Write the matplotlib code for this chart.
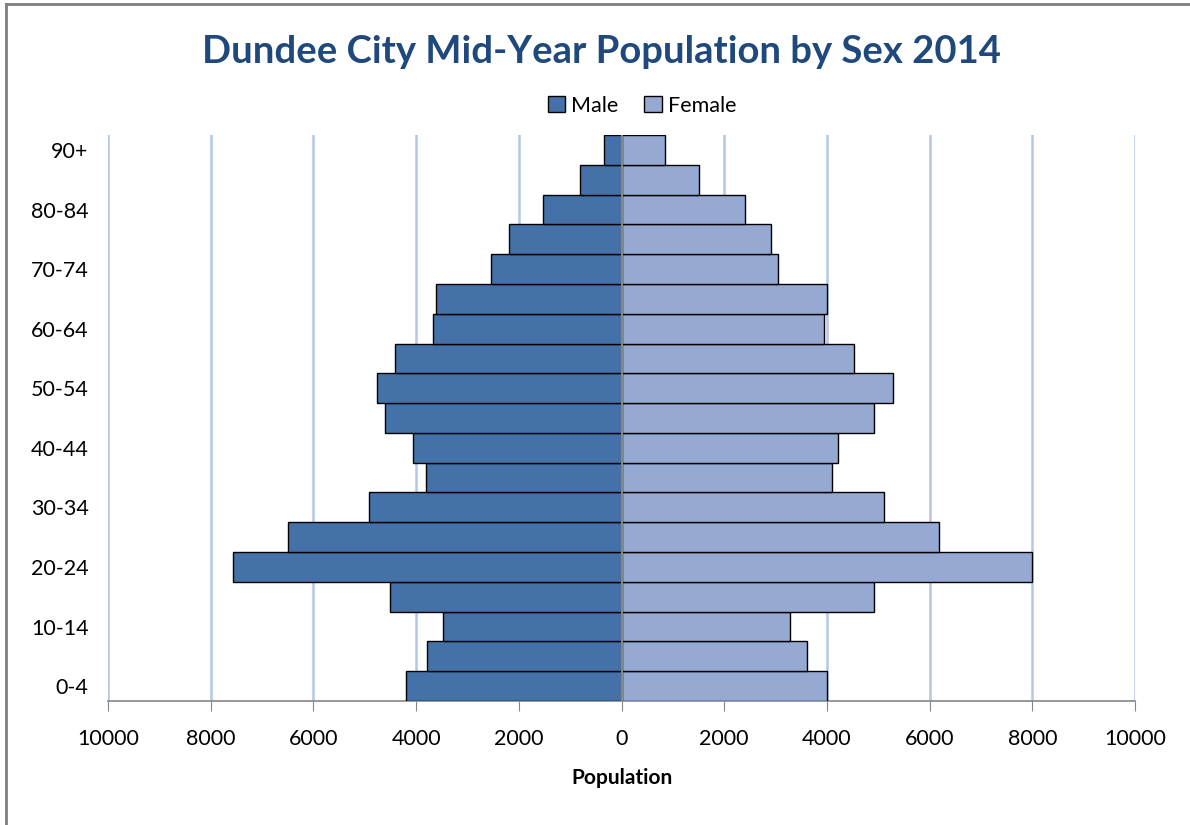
import matplotlib
matplotlib.use('Agg')
import matplotlib.pyplot as plt
from matplotlib.lines import Line2D

plt.rcParams['font.family'] = ['Lato', 'DejaVu Sans']

# ---- data ----
age_groups = ['0-4', '5-9', '10-14', '15-19', '20-24', '25-29', '30-34', '35-39',
              '40-44', '45-49', '50-54', '55-59', '60-64', '65-69', '70-74',
              '75-79', '80-84', '85-89', '90+']
male = [4190, 3780, 3470, 4500, 7560, 6500, 4910, 3800, 4070, 4615,
        4770, 4420, 3680, 3620, 2550, 2200, 1520, 800, 350]
female = [4010, 3620, 3290, 4910, 8000, 6190, 5120, 4090, 4210, 4910,
          5280, 4520, 3950, 4010, 3040, 2920, 2400, 1500, 840]
xticks = [-10000, -8000, -6000, -4000, -2000, 0, 2000, 4000, 6000, 8000, 10000]

male_color = '#4472A8'
female_color = '#95A9D3'
grid_color = '#B4C7E7'
axis_color = '#868686'

fig = plt.figure(figsize=(11.9, 8.25), dpi=100)
ax = fig.add_axes([0.0908, 0.1503, 0.863, 0.686])

y = range(len(age_groups))
ax.barh(y, [-v for v in male], height=1.0, color=male_color,
        edgecolor='black', linewidth=1, label='Male', zorder=3)
ax.barh(y, female, height=1.0, color=female_color,
        edgecolor='black', linewidth=1, label='Female', zorder=3)

ax.set_xlim(-10000, 10000)
ax.set_ylim(-0.5, len(age_groups) - 0.5)
ax.set_xticks(xticks)
ax.set_xticklabels([str(abs(t)) for t in xticks], fontsize=15.5)
ax.set_yticks(list(y)[::2])
ax.set_yticklabels(age_groups[::2], fontsize=15.5)
ax.tick_params(axis='y', length=0, pad=14)
ax.tick_params(axis='x', length=7, color=axis_color, direction='out', pad=13)

# vertical gridlines (skip the one at zero, the axis line goes there)
for t in xticks:
    if t != 0:
        ax.axvline(t, color=grid_color, linewidth=1.8, zorder=1)
ax.axvline(0, color=axis_color, linewidth=1.5, zorder=4)

for side in ['top', 'right', 'left']:
    ax.spines[side].set_visible(False)
ax.spines['bottom'].set_color(axis_color)
ax.spines['bottom'].set_linewidth(1.2)

ax.set_xlabel('Population', fontsize=15, fontweight='bold', labelpad=14)

fig.text(0.505, 0.937, 'Dundee City Mid-Year Population by Sex 2014',
         ha='center', va='center', fontsize=27.5, fontweight='bold', color='#1F497D')

ax.legend(loc='lower center', bbox_to_anchor=(0.52, 1.0), ncol=2, frameon=False,
          fontsize=15.5, handlelength=0.8, handleheight=0.8, handletextpad=0.3,
          columnspacing=1.2)

# figure border on left and top
fig.add_artist(Line2D([0.005, 0.005], [0, 0.995], color='#7F7F7F', linewidth=2,
                      transform=fig.transFigure))
fig.add_artist(Line2D([0.005, 1.0], [0.995, 0.995], color='#7F7F7F', linewidth=2,
                      transform=fig.transFigure))

fig.savefig('out.png', dpi=100)
plt.close(fig)
